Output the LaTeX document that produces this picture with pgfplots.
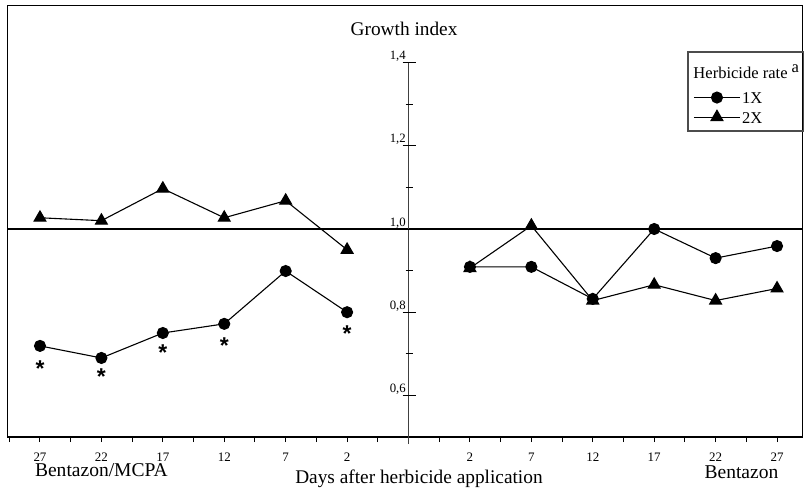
\documentclass[border=0pt]{standalone}
\usepackage{fontspec}
\setmainfont{Liberation Serif}
\newfontfamily\sansf{Liberation Sans}
\usepackage{pgfplots}
\pgfplotsset{compat=1.18}
\begin{document}
\begin{tikzpicture}
\begin{axis}[
  x=30.71bp, y=208bp,
  xmin=-6.53, xmax=6.42, ymin=0.5, ymax=1.538,
  axis line style={line width=0.6bp},
  xtick={-6,...,6},
  xticklabels={27,22,17,12,7,2,,2,7,12,17,22,27},
  minor xtick={-6.5,-5.5,...,5.5},
  ytick=\empty,
  tick align=outside, xtick pos=bottom,
  major tick length=2.5bp, minor tick length=2.5bp,
  tick style={line width=0.5bp, black},
  xticklabel style={font=\fontsize{6.5}{7}\selectfont, yshift=-2bp},
  clip=false,
  legend style={at={(axis cs:4.632,1.335)}, anchor=north west, draw=none, fill=none,
    font=\fontsize{8.3}{9}\selectfont, row sep=2.3bp, column sep=0pt, inner sep=0pt,
    nodes={inner sep=0.75bp, text height=6bp, text depth=0bp}},
  legend cell align=left,
  legend image code/.code={\draw[mark repeat=2,mark phase=2,#1] plot coordinates {(0bp,0bp) (11.5bp,0bp) (23bp,0bp)};},
]
\addplot[black, line width=0.55bp, mark=*, mark size=2.75bp, mark options={fill=black}]
  coordinates {(-6,0.719)(-5,0.690)(-4,0.750)(-3,0.772)(-2,0.899)(-1,0.800)};
\addlegendentry{1X}
\addplot[black, line width=0.55bp, mark=triangle*, mark size=3.4bp, mark options={fill=black}]
  coordinates {(-6,1.027)(-5,1.020)(-4,1.097)(-3,1.027)(-2,1.068)(-1,0.950)};
\addlegendentry{2X}
\addplot[black, line width=0.55bp, mark=*, mark size=2.75bp, mark options={fill=black}, forget plot]
  coordinates {(1,0.909)(2,0.909)(3,0.832)(4,1.000)(5,0.930)(6,0.959)};
\addplot[black, line width=0.55bp, mark=triangle*, mark size=3.4bp, mark options={fill=black}, forget plot]
  coordinates {(1,0.906)(2,1.008)(3,0.828)(4,0.866)(5,0.828)(6,0.857)};

% reference line at 1.0 and central y axis
\draw[line width=0.6bp] (axis cs:-6.53,1) -- (axis cs:6.42,1);
\draw[line width=0.6bp, black!75] (axis cs:0,0.483) -- (axis cs:0,1.4);
\pgfplotsinvokeforeach{0.6,0.8,1.0,1.2,1.4}{\draw[line width=0.5bp] ([xshift=-3bp]axis cs:0,#1) -- ([xshift=3.5bp]axis cs:0,#1);}
\pgfplotsinvokeforeach{0.7,0.9,1.1,1.3}{\draw[line width=0.5bp] ([xshift=-1.5bp]axis cs:0,#1) -- ([xshift=2bp]axis cs:0,#1);}
\foreach \v/\t in {0.6/{0,6},0.8/{0,8},1.0/{1,0},1.2/{1,2},1.4/{1,4}}{
  \edef\tmp{\noexpand\node[anchor=base east, inner sep=0pt, font=\noexpand\fontsize{6.4}{7}\noexpand\selectfont] at ([xshift=-1.2bp, yshift=1.5bp]axis cs:0,\v) {\t};}
  \tmp
}

% asterisks (significance)
\foreach \xx/\yy in {-6/0.673,-5/0.654,-4/0.711,-3/0.728,-1/0.757}{
  \edef\tmp{\noexpand\node[anchor=base, yshift=-5.6bp, inner sep=0pt, font=\noexpand\sansf\noexpand\bfseries\noexpand\fontsize{11.5}{11.5}\noexpand\selectfont] at (axis cs:\xx,\yy) {*};}
  \tmp
}

% titles and labels
\node[anchor=base, inner sep=0pt, font=\fontsize{9.7}{11}\selectfont] at (axis cs:-0.073,1.466) {Growth index};
\node[anchor=base, inner sep=0pt, font=\fontsize{9.8}{11}\selectfont] at (axis cs:-5.0,0.404) {Bentazon/MCPA};
\node[anchor=base, inner sep=0pt, font=\fontsize{9.7}{11}\selectfont] at (axis cs:0.17,0.389) {Days after herbicide application};
\node[anchor=base, inner sep=0pt, font=\fontsize{9.8}{11}\selectfont] at (axis cs:5.42,0.401) {Bentazon};

% legend frame and title
\draw[line width=0.7bp, black!70] (axis cs:4.551,1.4255) rectangle (axis cs:6.43,1.2356);
\node[anchor=base west, inner sep=0pt, font=\fontsize{8.3}{9}\selectfont] at (axis cs:4.633,1.3606) {Herbicide rate\hspace{2bp}\raisebox{3bp}{a}};

\coordinate (bbsw) at (axis cs:-6.651,0.3678);
\coordinate (bbne) at (axis cs:6.439,1.5505);
\end{axis}
\pgfresetboundingbox
\useasboundingbox (bbsw) rectangle (bbne);
\end{tikzpicture}
\end{document}
